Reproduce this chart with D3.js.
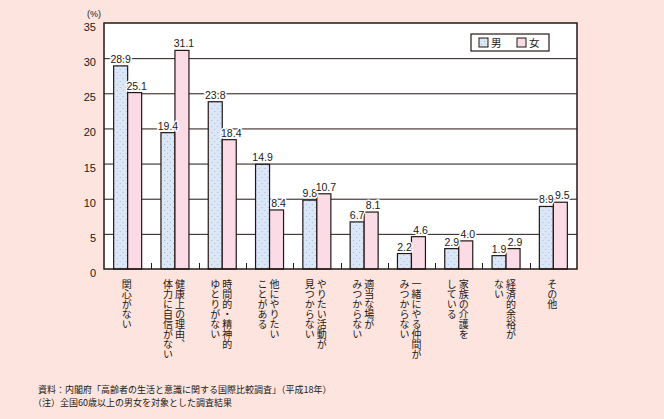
<!DOCTYPE html>
<html>
<head>
<meta charset="utf-8">
<script src="https://cdn.jsdelivr.net/npm/d3@7"></script>
<style>
  body { margin: 0; background: #fde4de; }
  svg { display: block; }
  text { font-family: "Liberation Sans", Arial, sans-serif; fill: #231815; }
  .jp { font-family: "Noto Sans CJK JP", sans-serif; }
</style>
</head>
<body>
<svg id="chart" width="664" height="419"></svg>
<script>
// Categories (each entry is the lines of a vertical label, right column first)
const categories = [
  ['関心がない'],
  ['健康上の理由、', '体力に自信がない'],
  ['時間的・精神的', 'ゆとりがない'],
  ['他にやりたい', 'ことがある'],
  ['やりたい活動が', '見つからない'],
  ['適当な場が', 'みつからない'],
  ['一緒にやる仲間が', 'みつからない'],
  ['家族の介護を', 'している'],
  ['経済的余裕が', 'ない'],
  ['その他']
];
const maleValues = [28.9, 19.4, 23.8, 14.9, 9.8, 6.7, 2.2, 2.9, 1.9, 8.9];
const femaleValues = [25.1, 31.1, 18.4, 8.4, 10.7, 8.1, 4.6, 4.0, 2.9, 9.5];
const seriesNames = ['男', '女'];
const yTicks = [0, 5, 10, 15, 20, 25, 30, 35];
const notes = [
  '資料：内閣府「高齢者の生活と意識に関する国際比較調査」（平成18年）',
  '（注）全国60歳以上の男女を対象とした調査結果'
];

const svg = d3.select('#chart');
const margin = { top: 23, left: 104, right: 87, bottom: 150 };
const width = 664, height = 419;
const innerW = width - margin.left - margin.right;
const innerH = height - margin.top - margin.bottom;

const ink = '#231815';
const maleFill = '#dbe7f6';
const femaleFill = '#fbdbe6';

// dotted pattern for male bars
const defs = svg.append('defs');
const pat = defs.append('pattern')
  .attr('id', 'dots')
  .attr('width', 6).attr('height', 6)
  .attr('patternUnits', 'userSpaceOnUse');
pat.append('rect').attr('width', 6).attr('height', 6).attr('fill', maleFill);
pat.append('rect').attr('x', 1).attr('y', 1).attr('width', 1).attr('height', 1).attr('fill', '#9fb8de');
pat.append('rect').attr('x', 4).attr('y', 4).attr('width', 1).attr('height', 1).attr('fill', '#9fb8de');

const x = d3.scaleBand().domain(d3.range(categories.length)).range([0, innerW]).padding(0);
const y = d3.scaleLinear().domain([0, 35]).range([innerH, 0]);
const barW = 14;

const g = svg.append('g').attr('transform', `translate(${margin.left},${margin.top})`);

// plot background
g.append('rect').attr('width', innerW).attr('height', innerH).attr('fill', '#fff');

// gridlines
g.selectAll('.grid')
  .data(yTicks.filter(d => d > 0 && d < 35))
  .enter().append('line')
  .attr('x1', 0).attr('x2', innerW)
  .attr('y1', d => y(d) + 0.5).attr('y2', d => y(d) + 0.5)
  .attr('stroke', ink).attr('stroke-width', 1);

// group separator ticks on bottom
g.selectAll('.sep')
  .data(d3.range(1, categories.length))
  .enter().append('line')
  .attr('x1', d => Math.round(x(d)) + 0.5).attr('x2', d => Math.round(x(d)) + 0.5)
  .attr('y1', innerH).attr('y2', innerH - 6)
  .attr('stroke', ink);

// bars
const groups = g.selectAll('.grp')
  .data(categories.map((c, i) => i))
  .enter().append('g')
  .attr('transform', i => `translate(${x(i) + x.bandwidth() / 2},0)`);

groups.append('rect')
  .attr('x', -barW).attr('width', barW)
  .attr('y', i => y(maleValues[i])).attr('height', i => innerH - y(maleValues[i]))
  .attr('fill', 'url(#dots)').attr('stroke', ink).attr('stroke-width', 1.2);

groups.append('rect')
  .attr('x', 0).attr('width', barW)
  .attr('y', i => y(femaleValues[i])).attr('height', i => innerH - y(femaleValues[i]))
  .attr('fill', femaleFill).attr('stroke', ink).attr('stroke-width', 1.2);

// value labels with white halo
const labelStyle = sel => sel
  .attr('font-size', 10.5)
  .attr('text-anchor', 'middle')
  .attr('stroke', '#fff').attr('stroke-width', 3)
  .attr('paint-order', 'stroke');

groups.append('text').call(labelStyle)
  .attr('x', -barW / 2).attr('y', i => y(maleValues[i]) - 3)
  .text(i => maleValues[i].toFixed(1));
groups.append('text').call(labelStyle)
  .attr('x', barW / 2 + 2).attr('y', i => y(femaleValues[i]) - 3)
  .text(i => femaleValues[i].toFixed(1));

// frame
g.append('rect').attr('width', innerW).attr('height', innerH)
  .attr('fill', 'none').attr('stroke', ink).attr('stroke-width', 1.5);

// y axis labels
g.selectAll('.ylab')
  .data(yTicks)
  .enter().append('text')
  .attr('x', -8).attr('y', d => y(d) + 8)
  .attr('text-anchor', 'end').attr('font-size', 11)
  .text(d => d);
svg.append('text').attr('x', 87).attr('y', 17).attr('font-size', 9).text('(%)');

// vertical category labels
const lineGap = 12;
groups.each(function (i) {
  const lines = categories[i];
  const n = lines.length;
  lines.forEach((line, k) => {
    const cx = (n - 1) * lineGap / 2 - k * lineGap - 1;
    d3.select(this).append('text')
      .attr('class', 'jp')
      .attr('x', cx).attr('y', innerH + 10)
      .attr('font-size', 10)
      .style('writing-mode', 'vertical-rl')
      .text(line);
  });
});

// legend
const lg = svg.append('g').attr('transform', 'translate(471,34)');
lg.append('rect').attr('width', 78).attr('height', 17).attr('fill', '#fff')
  .attr('stroke', ink).attr('stroke-width', 1.2);
seriesNames.forEach((name, k) => {
  const ox = 8 + k * 38;
  lg.append('rect').attr('x', ox).attr('y', 4).attr('width', 9).attr('height', 9)
    .attr('fill', k === 0 ? 'url(#dots)' : femaleFill).attr('stroke', ink).attr('stroke-width', 1);
  lg.append('text').attr('class', 'jp').attr('x', ox + 12).attr('y', 13)
    .attr('font-size', 10.5).text(name);
});

// notes
notes.forEach((t, k) => {
  svg.append('text').attr('class', 'jp')
    .attr('x', k === 0 ? 38 : 33).attr('y', 393 + k * 13)
    .attr('font-size', 9).text(t);
});
</script>
</body>
</html>
